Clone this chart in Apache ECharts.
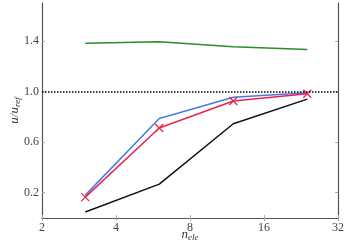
<!DOCTYPE html>
<html><head><meta charset="utf-8">
<script src="https://cdn.jsdelivr.net/npm/echarts@6/dist/echarts.min.js"></script>
<style>html,body{margin:0;padding:0;background:#fff}#c{width:349px;height:247px}</style>
</head><body><div id="c"></div>
<script>
var nele = [3, 6, 12, 24];
var green = [1.382, 1.393, 1.355, 1.332];
var blue = [0.181, 0.787, 0.955, 0.990];
var red = [0.165, 0.712, 0.925, 0.982];
var black = [0.048, 0.268, 0.745, 0.940];
var xTicks = [2, 4, 8, 16, 32];
var yTicks = [0.2, 0.6, 1.0, 1.4];
var refValue = 1.0;

function pairs(ys){ return nele.map(function(x,i){return [x, ys[i]];}); }
var font = 'Liberation Serif';
var axisGray = '#555555';
var chart = echarts.init(document.getElementById('c'), null, {renderer:'canvas'});
var xCommon = {type:'log', logBase:2, min:2, max:32,
  axisLine:{show:true, lineStyle:{color:axisGray, width:1.2}},
  axisTick:{show:true, inside:true, length:3, lineStyle:{color:'#aaaaaa'}},
  splitLine:{show:false}, minorTick:{show:false}};
var yCommon = {type:'value', min:0, max:1.7,
  axisLine:{show:true, lineStyle:{color:axisGray, width:1.2}},
  axisTick:{show:true, inside:true, length:3, customValues:yTicks, lineStyle:{color:'#aaaaaa'}},
  splitLine:{show:false}};
var sub = {
  i:{fontFamily:font, fontStyle:'italic', fontSize:13, color:'#333', lineHeight:14},
  s:{fontFamily:font, fontStyle:'italic', fontSize:9, color:'#333', lineHeight:14, padding:[5,0,0,0]}
};
chart.setOption({
  animation:false,
  grid:{left:42, right:11, top:3, bottom:29, outerBoundsMode:'none', containLabel:false},
  xAxis:[
    Object.assign({}, xCommon, {position:'bottom',
      axisLabel:{show:true, customValues:xTicks, margin:4, fontFamily:font, fontSize:12, color:'#444',
        formatter:function(v){return String(Math.round(v));}},
      name:'{i|n}{s|ele}', nameLocation:'middle', nameGap:10, nameMoveOverlap:false,
      nameTextStyle:{rich:sub}}),
    Object.assign({}, xCommon, {position:'top', axisLabel:{show:false}})
  ],
  yAxis:[
    Object.assign({}, yCommon, {position:'left',
      axisLabel:{show:true, customValues:yTicks, margin:3, fontFamily:font, fontSize:12, color:'#444',
        formatter:function(v){return v.toFixed(1);}},
      name:'{i|u/u}{s|ref}', nameLocation:'middle', nameGap:20, nameRotate:90, nameMoveOverlap:false,
      nameTextStyle:{rich:sub}}),
    Object.assign({}, yCommon, {position:'right', axisLabel:{show:false}})
  ],
  series:[
    {type:'line', data:pairs(green), symbol:'none', lineStyle:{color:'#2a8c2a', width:1.5}, z:3},
    {type:'line', data:pairs(black), symbol:'none', lineStyle:{color:'#111111', width:1.5}, z:3},
    {type:'line', data:pairs(blue), symbol:'none', lineStyle:{color:'#4a78e8', width:1.5}, z:3},
    {type:'line', data:pairs(red), symbol:'path://M0,0L10,10M10,0L0,10', symbolSize:8,
      showSymbol:true,
      itemStyle:{color:'rgba(0,0,0,0)', borderColor:'#e8244e', borderWidth:1.3},
      lineStyle:{color:'#e8244e', width:1.5}, z:4,
      markLine:{silent:true, symbol:'none', label:{show:false},
        lineStyle:{color:'#000', type:[1.5,1.5], width:1.5},
        data:[{yAxis:refValue}]}}
  ]
});
</script></body></html>
